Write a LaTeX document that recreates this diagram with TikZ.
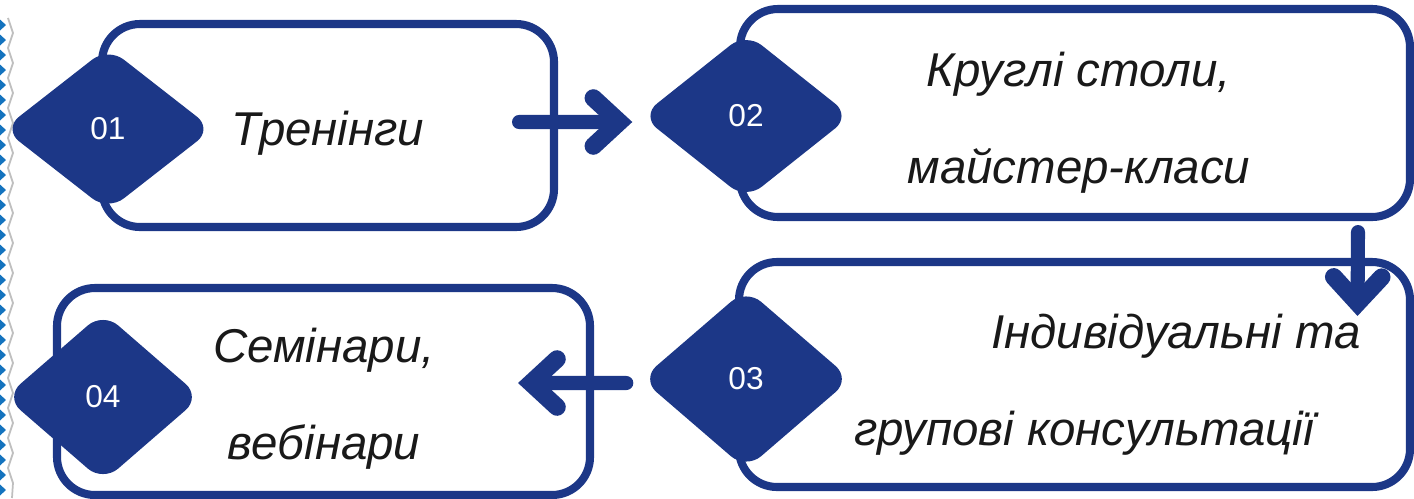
\documentclass[tikz,border=0pt]{standalone}
\usepackage{fontspec}
\setmainfont{Liberation Sans}
\usepackage{xcolor}
\usepackage{tikz}
\usetikzlibrary{arrows.meta,positioning,calc,shapes.geometric}
\definecolor{stageblue}{RGB}{28,55,135}
\definecolor{edgeblue}{RGB}{20,115,190}
\tikzset{
  stagebox/.style={draw=stageblue,line width=2.3pt,rounded corners=0.38cm,fill=white},
  numdiamond/.style={diamond,fill=stageblue,rounded corners=0.2cm,inner sep=0pt,
    text=white,font=\fontsize{9}{11}\selectfont},
  stagetext/.style={align=center,font=\fontsize{13.5}{27.6}\selectfont\itshape,text=black!90},
  flowarrow/.style={-{Straight Barb[length=0.26cm,width=0.48cm,line width=5pt,line cap=round,line join=miter]},
    line width=4pt,draw=stageblue,line cap=round}
}

\begin{document}
\begin{tikzpicture}
  \useasboundingbox (0,0) rectangle (14.14,4.98);
  % cropped edge ornament
  \foreach \y in {0.08,0.23,...,4.85}
    \fill[edgeblue] (0,\y-0.055) -- (0.06,\y) -- (0,\y+0.055) -- cycle;
  \draw[black!25,line width=0.5pt] (0.12,0)
    \foreach \y [count=\k] in {0.15,0.3,...,4.95} {-- ({0.08+0.05*mod(\k,2)},\y)};

  \node[stagebox,minimum width=4.52cm,minimum height=2.03cm] (b1) at (3.28,3.725) {};
  \node[stagebox,minimum width=6.70cm,minimum height=2.08cm] (b2) at (10.75,3.85) {};
  \node[stagebox,minimum width=6.71cm,minimum height=2.25cm] (b3) at (10.745,1.235) {};
  \node[stagebox,minimum width=5.33cm,minimum height=2.07cm] (b4) at (3.235,1.065) {};

  \node[numdiamond,minimum width=2.1cm,minimum height=1.64cm] (d1) at (1.08,3.69) {01};
  \node[numdiamond,minimum width=2.1cm,minimum height=1.67cm] (d2) at (7.46,3.82) {02};
  \node[numdiamond,minimum width=2.1cm,minimum height=1.81cm] (d3) at (7.46,1.19) {03};
  \node[numdiamond,minimum width=1.96cm,minimum height=1.70cm] (d4) at (1.03,1.01) {04};

  \node[stagetext] (t1) at (3.28,3.65) {Тренінги};
  \node[stagetext] (t2) at (10.79,3.755) {Круглі столи,\\майстер-класи};
  \node[stagetext] (t3) at (10.84,1.13) {\hspace*{1.84cm}Індивідуальні та\\групові консультації};
  \node[stagetext] (t4) at (3.24,0.99) {Семінари,\\вебінари};

  \draw[flowarrow] ([xshift=-0.39cm,yshift=0.035cm]b1.east) -- ([xshift=-0.08cm,yshift=-0.06cm]d2.west);
  \draw[flowarrow] ([xshift=2.83cm,yshift=-0.11cm]b2.south) -- ([xshift=2.83cm,yshift=-0.58cm]b3.north);
  \draw[flowarrow] ([xshift=-0.14cm,yshift=-0.04cm]d3.west) -- ([xshift=-0.76cm,yshift=0.085cm]b4.east);
\end{tikzpicture}
\end{document}
